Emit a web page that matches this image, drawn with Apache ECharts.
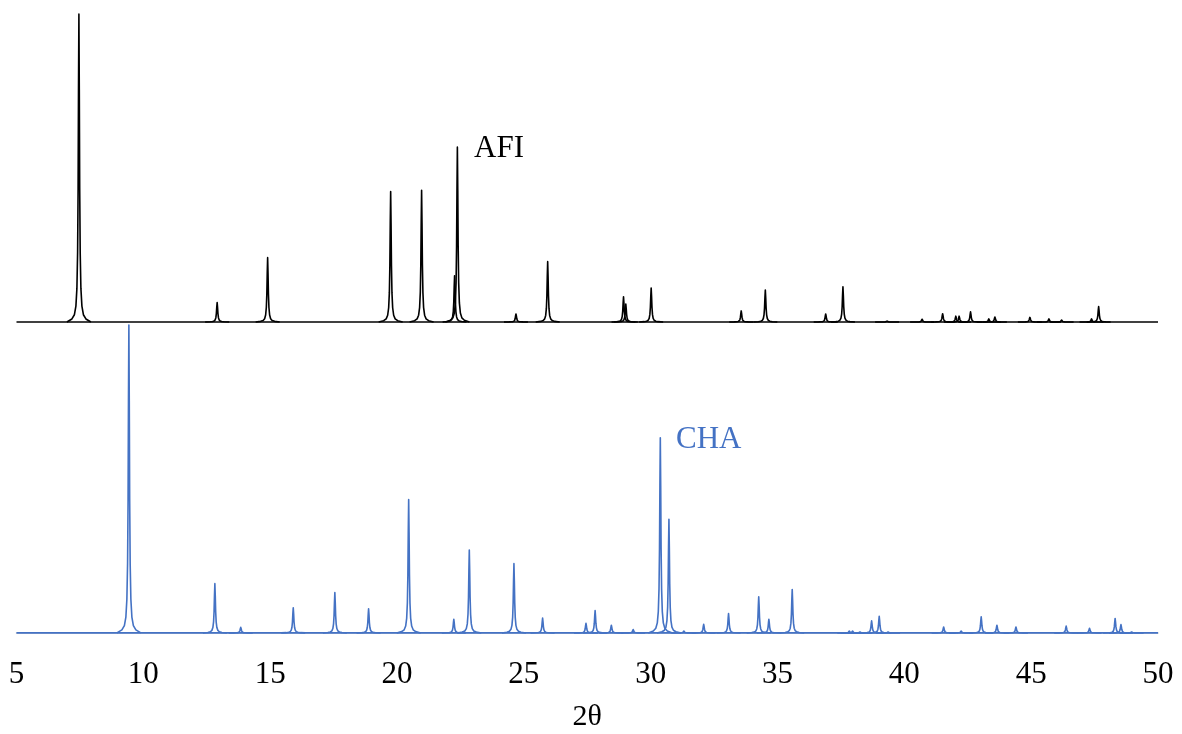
<!DOCTYPE html>
<html>
<head>
<meta charset="utf-8">
<script src="https://cdn.jsdelivr.net/npm/echarts@6/dist/echarts.min.js"></script>
<style>
  html, body { margin: 0; padding: 0; background: #ffffff; }
  #chart { width: 1182px; height: 734px; }
</style>
</head>
<body>
<div id="chart"></div>
<script>
// 2θ axis range and tick labels
const xMin = 5;
const xMax = 50;
const xTicks = [5, 10, 15, 20, 25, 30, 35, 40, 45, 50];

// AFI reflections: positions (2θ, degrees) and relative intensities
const afiPos = [7.46, 12.91, 14.90, 19.75, 20.97, 22.27, 22.38, 24.69, 25.94,
                28.93, 29.02, 30.02, 33.57, 34.52, 36.90, 37.58, 39.32, 40.70,
                41.51, 42.03, 42.16, 42.61, 43.33, 43.57, 44.95, 45.70, 46.20,
                47.38, 47.66];
const afiInt = [100, 6.3, 20.9, 42.4, 42.8, 15.0, 56.8, 2.6, 19.6,
                8.2, 5.8, 11.0, 3.6, 10.4, 2.6, 11.4, 0.3, 0.9,
                2.7, 1.9, 1.9, 3.3, 1.0, 1.6, 1.5, 1.0, 0.6,
                1.0, 5.0];

// CHA reflections: positions (2θ, degrees) and relative intensities
const chaPos = [9.43, 12.82, 13.84, 15.91, 17.55, 18.88, 20.46, 22.24, 22.85,
                24.61, 25.74, 27.45, 27.81, 28.45, 29.31, 30.38, 30.72, 31.31,
                32.09, 33.07, 34.26, 34.66, 35.58, 37.83, 37.96, 38.25, 38.71,
                39.01, 39.36, 41.55, 42.24, 43.03, 43.65, 44.40, 46.38, 47.30,
                48.31, 48.54, 48.96];
const chaInt = [100, 16.0, 1.8, 8.2, 13.1, 7.8, 43.3, 4.4, 26.9,
                22.5, 4.8, 3.1, 7.3, 2.5, 1.1, 63.4, 36.9, 0.6,
                2.8, 6.3, 11.7, 4.4, 14.1, 0.6, 0.6, 0.3, 3.9,
                5.4, 0.3, 1.9, 0.6, 5.2, 2.5, 1.9, 2.2, 1.5,
                4.7, 2.7, 0.3];

// vertical stacking of the two patterns
const afiOffset = 101;
const chaOffset = 0;

const AFI_COLOR = '#000000';
const CHA_COLOR = '#4472C4';
const SERIF = '"Liberation Serif", "DejaVu Serif", serif';

function peakData(pos, inten, offset) {
  return pos.map((p, i) => [p, inten[i], offset]);
}

// each reflection is drawn as a narrow Lorentzian-like profile in screen space
function makePeakRenderer(color) {
  const halfWidth = 0.7;          // px
  const steps = [12, 7, 4.5, 3, 2, 1.3, 0.8, 0.4];
  return function (params, api) {
    const pos = api.value(0);
    const h = api.value(1);
    const base = api.value(2);
    const top = api.coord([pos, base + h]);
    const foot = api.coord([pos, base]);
    const H = foot[1] - top[1];
    const prof = d => (d >= 12 ? 0 : H / (1 + (d / halfWidth) * (d / halfWidth)));
    const pts = [];
    steps.forEach(d => pts.push([foot[0] - d, foot[1] - prof(d)]));
    pts.push([top[0], top[1]]);
    steps.slice().reverse().forEach(d => pts.push([foot[0] + d, foot[1] - prof(d)]));
    return {
      type: 'polyline',
      shape: { points: pts },
      style: { stroke: color, fill: null, lineWidth: 1.6, lineJoin: 'round' }
    };
  };
}

const chart = echarts.init(document.getElementById('chart'), null, { renderer: 'canvas' });

chart.setOption({
  backgroundColor: '#ffffff',
  animation: false,
  grid: {
    left: 16.5, right: 24, top: 8, bottom: 98,
    containLabel: false,
    outerBoundsMode: 'none'
  },
  xAxis: {
    type: 'value',
    min: xMin,
    max: xMax,
    interval: 5,
    name: '2θ',
    nameLocation: 'middle',
    nameGap: 66,
    nameTextStyle: { fontFamily: SERIF, fontSize: 30, color: '#000000' },
    axisLine: { show: true, lineStyle: { color: '#c4c4c4', width: 1.5 } },
    axisTick: { show: false },
    splitLine: { show: false },
    axisLabel: {
      fontFamily: SERIF, fontSize: 31, color: '#000000', margin: 23,
      formatter: v => (xTicks.indexOf(v) >= 0 ? String(v) : '')
    }
  },
  yAxis: {
    type: 'value',
    min: -1,
    max: 203,
    show: false,
    splitLine: { show: false }
  },
  series: [
    {
      name: 'AFI baseline',
      type: 'line',
      data: [[xMin, afiOffset], [xMax, afiOffset]],
      symbol: 'none',
      lineStyle: { color: AFI_COLOR, width: 1.6 },
      silent: true
    },
    {
      name: 'CHA baseline',
      type: 'line',
      data: [[xMin, chaOffset], [xMax, chaOffset]],
      symbol: 'none',
      lineStyle: { color: CHA_COLOR, width: 1.6 },
      silent: true
    },
    {
      name: 'CHA',
      type: 'custom',
      renderItem: makePeakRenderer(CHA_COLOR),
      encode: { x: 0, y: 1 },
      data: peakData(chaPos, chaInt, chaOffset),
      silent: true
    },
    {
      name: 'AFI',
      type: 'custom',
      renderItem: makePeakRenderer(AFI_COLOR),
      encode: { x: 0, y: 1 },
      data: peakData(afiPos, afiInt, afiOffset),
      silent: true
    }
  ],
  graphic: [
    {
      type: 'text',
      left: 474, top: 133,
      style: { text: 'AFI', font: '31px ' + SERIF, fill: AFI_COLOR }
    },
    {
      type: 'text',
      left: 676, top: 424,
      style: { text: 'CHA', font: '31px ' + SERIF, fill: CHA_COLOR }
    }
  ]
});
</script>
</body>
</html>
